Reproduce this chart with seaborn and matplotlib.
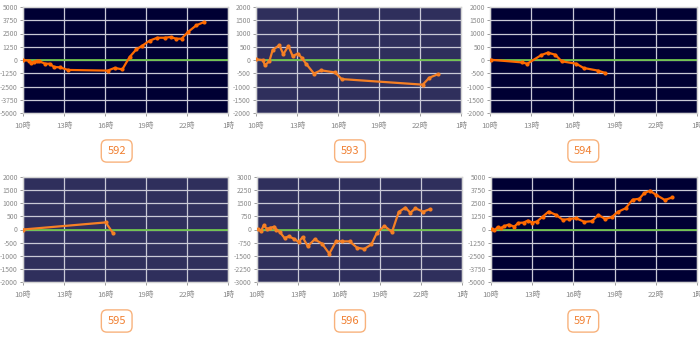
import matplotlib
matplotlib.use("Agg")
import matplotlib.pyplot as plt
import seaborn as sns
import pandas as pd

sns.set_theme(style="white")
plt.rcParams['font.family'] = ['Noto Sans CJK JP', 'DejaVu Sans']

# ---- machine data: hour of day (10 = 10時) and running balance ----
names = ["592", "593", "594", "595", "596", "597"]

t592 = [10.0, 10.44, 10.61, 10.8, 11.0, 11.17, 11.63, 11.95, 12.27, 12.68, 13.3, 16.2, 16.7,
        17.27, 17.8, 18.29, 18.73, 19.27, 19.83, 20.37, 20.8, 21.2, 21.6, 22.07, 22.68, 23.24]
v592 = [0, -60, -250, -160, -120, -120, -350, -350, -660, -690, -940, -1000, -750,
        -880, 280, 1000, 1350, 1830, 2100, 2100, 2170, 2010, 2010, 2640, 3270, 3580]

t593 = [10.0, 10.49, 10.66, 10.98, 11.22, 11.71, 12.0, 12.37, 12.68, 13.05, 13.34, 13.66,
        14.24, 14.76, 15.78, 16.27, 22.2, 22.68, 23.29]
v593 = [25, 0, -200, -40, 380, 560, 215, 530, 150, 240, 90, -140,
        -510, -390, -470, -720, -930, -670, -540]

t594 = [10.05, 12.3, 12.7, 13.7, 14.19, 14.72, 15.2, 16.25, 16.78, 17.82, 18.3]
v594 = [10, -90, -140, 180, 280, 200, -50, -140, -300, -400, -480]

t595 = [10.0, 16.05, 16.59]
v595 = [0, 270, -140]

t596 = [10.05, 10.29, 10.49, 10.73, 10.98, 11.27, 11.41, 11.66, 12.02, 12.32, 12.68, 13.05,
        13.34, 13.71, 14.22, 14.76, 15.29, 15.8, 16.22, 16.78, 17.32, 17.85, 18.37, 18.78,
        19.32, 19.88, 20.37, 20.85, 21.22, 21.59, 22.15, 22.68]
v596 = [30, -90, 230, 40, 100, 160, 0, -140, -490, -390, -520, -710,
        -430, -960, -560, -810, -1380, -660, -680, -680, -1040, -1110, -850, -180,
        200, -140, 1000, 1250, 960, 1210, 1020, 1170]

t597 = [10.07, 10.24, 10.48, 10.73, 10.97, 11.28, 11.69, 12.0, 12.37, 12.68, 13.02, 13.34,
        13.77, 14.19, 14.74, 15.23, 15.71, 16.2, 16.8, 17.34, 17.82, 18.3, 18.79, 19.22,
        19.8, 20.31, 20.8, 21.16, 21.57, 22.05, 22.66, 23.21]
v597 = [60, -90, 220, 130, 320, 470, 280, 630, 660, 850, 660, 760,
        1230, 1700, 1390, 920, 1010, 1070, 730, 790, 1390, 1010, 1170, 1670,
        2020, 2840, 2930, 3470, 3690, 3280, 2810, 3060]

series_t = [t592, t593, t594, t595, t596, t597]
series_v = [v592, v593, v594, v595, v596, v597]
y_limits = [5000, 2000, 2000, 2000, 3000, 5000]
y_steps = [1250, 500, 500, 500, 750, 1250]

x_ticks = [10, 13, 16, 19, 22, 25]
x_labels = ["10時", "13時", "16時", "19時", "22時", "1時"]

# ---- styling ----
dark_bg, light_bg = "#000033", "#2f2f5c"
dark_line, light_line = "#ff6a00", "#f58025"
backgrounds = [dark_bg, light_bg, dark_bg, light_bg, light_bg, dark_bg]
line_colors = [dark_line, light_line, dark_line, light_line, light_line, dark_line]

W, H = 700, 340
fig = plt.figure(figsize=(W / 100, H / 100), dpi=100)

# plot-area rectangles in pixels: left, top, right, bottom
rects = [(23, 7, 228, 113), (256, 7, 461, 113), (490, 7, 697, 113),
         (23, 177, 228, 282), (257, 177, 462, 282), (491, 177, 697, 282)]
cell_centers = [116.7, 350, 583.3, 116.7, 350, 583.3]
label_y = [151, 151, 151, 321, 321, 321]

for i, name in enumerate(names):
    l, t, r, b = rects[i]
    ax = fig.add_axes([l / W, 1 - b / H, (r - l) / W, (b - t) / H])
    ax.set_facecolor(backgrounds[i])
    df = pd.DataFrame({"hour": series_t[i], "balance": series_v[i]})
    lim = y_limits[i]
    step = y_steps[i]
    yt = list(range(-lim, lim + 1, step))
    for y in yt:
        ax.axhline(y, color="#c9c9d6", lw=0.9, zorder=1)
    for x in x_ticks:
        ax.axvline(x, color="#c9c9d6", lw=0.9, zorder=1)
    ax.axhline(0, color="#6cc24a", lw=1.3, zorder=2)
    sns.lineplot(data=df, x="hour", y="balance", ax=ax, color=line_colors[i],
                 marker="o", markersize=3, markeredgewidth=0, lw=1.6, zorder=3)
    ax.set_xlim(10, 25)
    ax.set_ylim(-lim, lim)
    ax.set_xticks(x_ticks)
    ax.set_xticklabels(x_labels)
    ax.set_yticks(yt)
    ax.set_yticklabels([str(v) for v in yt])
    ax.set_xlabel("")
    ax.set_ylabel("")
    ax.tick_params(axis="y", labelsize=4.9, colors="#8a8a8a", length=2.2,
                   width=0.6, pad=1.5, left=True)
    ax.tick_params(axis="x", labelsize=5.6, colors="#8a8a8a", length=2.5,
                   width=0.6, pad=4, bottom=True)
    for sp in ax.spines.values():
        sp.set_color("#d4d4d4")
        sp.set_linewidth(1.0)
    fig.text(cell_centers[i] / W, 1 - label_y[i] / H, name, ha="center", va="center",
             fontsize=8, color="#f07f30",
             bbox=dict(boxstyle="round,pad=0.55,rounding_size=0.5", fc="white",
                       ec="#f8b27c", lw=1.0))

fig.savefig("out.png", dpi=100, facecolor="white")
